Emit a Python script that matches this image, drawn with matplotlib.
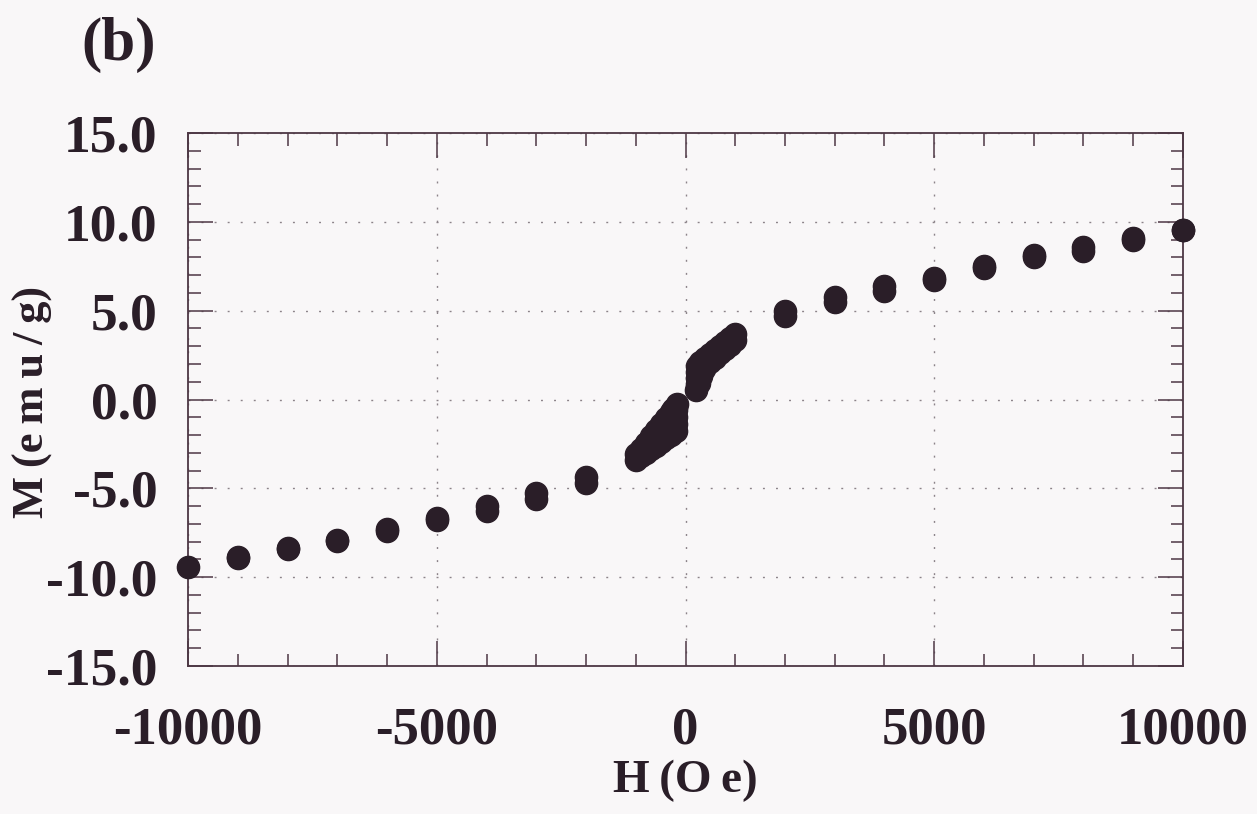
import matplotlib
matplotlib.use("Agg")
import matplotlib.pyplot as plt
from matplotlib.ticker import MultipleLocator, FormatStrFormatter

# Magnetization loop M(H): field-decreasing and field-increasing branches
field_down = [10000, 9000, 8000, 7000, 6000, 5000, 4000, 3000, 2000, 1000,
              900, 800, 700, 600, 500, 400, 300, 240, 232, 228, 224,
              -180, -250, -300, -400, -500, -600, -700, -800, -900, -1000,
              -2000, -3000, -4000, -5000, -6000, -7000, -8000, -9000, -10000]
moment_down = [9.52, 9.10, 8.58, 8.12, 7.51, 6.82, 6.39, 5.77, 4.98, 3.67,
               3.45, 3.22, 3.00, 2.78, 2.55, 2.33, 2.10, 1.88, 1.55, 1.20, 0.90,
               -0.27, -0.52, -0.70, -1.05, -1.40, -1.74, -2.08, -2.42, -2.76, -3.08,
               -4.36, -5.24, -5.99, -6.65, -7.30, -7.88, -8.38, -8.88, -9.43]

field_up = [-9000, -8000, -7000, -6000, -5000, -4000, -3000, -2000, -1000,
            -900, -800, -700, -600, -500, -400, -300, -200, -199, -198, -197,
            220, 270, 320, 370, 420, 500, 600, 700, 800, 900, 1000,
            2000, 3000, 4000, 5000, 6000, 7000, 8000, 9000, 10000]
moment_up = [-8.93, -8.44, -7.94, -7.38, -6.77, -6.25, -5.60, -4.70, -3.42,
             -3.20, -3.00, -2.80, -2.60, -2.40, -2.18, -1.97, -1.75, -1.40, -1.00, -0.60,
             0.55, 0.95, 1.35, 1.70, 1.95, 2.12, 2.35, 2.60, 2.84, 3.08, 3.33,
             4.68, 5.51, 6.13, 6.74, 7.43, 8.04, 8.38, 9.00, 9.52]

x_limits = (-10000, 10000)
y_limits = (-15.0, 15.0)

plt.rcParams["font.family"] = ["Liberation Serif", "DejaVu Serif"]
plt.rcParams["font.weight"] = "bold"
plt.rcParams["axes.unicode_minus"] = False

ink = "#2a1e28"
frame = "#4d3744"
paper = "#f9f7f8"

fig = plt.figure(figsize=(12.57, 8.14), dpi=100, facecolor=paper)
ax = fig.add_axes([0.1496, 0.1818, 0.7915, 0.6548], facecolor=paper)

for hx, my in ((field_down, moment_down), (field_up, moment_up)):
    ax.plot(hx, my, linestyle="none", marker="o", markersize=16,
            markerfacecolor=ink, markeredgecolor=ink, clip_on=False, zorder=3)

ax.set_xlim(*x_limits)
ax.set_ylim(*y_limits)

ax.xaxis.set_major_locator(MultipleLocator(5000))
ax.xaxis.set_minor_locator(MultipleLocator(1000))
ax.yaxis.set_major_locator(MultipleLocator(5))
ax.yaxis.set_minor_locator(MultipleLocator(1))
ax.yaxis.set_major_formatter(FormatStrFormatter("%.1f"))

ax.grid(True, which="major", color="#8c8389", linestyle=(0, (1.4, 8.0)), linewidth=1.0)

for s in ax.spines.values():
    s.set_color(frame)
    s.set_linewidth(1.3)

ax.tick_params(which="both", direction="in", top=True, right=True, color=frame, width=1.1)
ax.tick_params(which="major", length=18)
ax.tick_params(which="minor", length=9)
ax.tick_params(axis="x", which="major", labelsize=38, pad=29, labelcolor=ink)
ax.tick_params(axis="y", which="major", labelsize=38.5, pad=22, labelcolor=ink)

ax.set_xlabel("H\u2009(O\u2009e)", fontsize=34, fontweight="bold", color=ink)
ax.set_ylabel("M\u2009(e\u2009m\u2009u\u2009/\u2009g)", fontsize=32, fontweight="bold", color=ink)
ax.xaxis.set_label_coords(0.5, -0.176)
ax.yaxis.set_label_coords(-0.136, 0.495)

fig.text(0.0947, 0.9447, "(b)", fontsize=44, fontweight="bold", color=ink,
         ha="center", va="center")

fig.savefig("out.png", dpi=100, facecolor=paper)
